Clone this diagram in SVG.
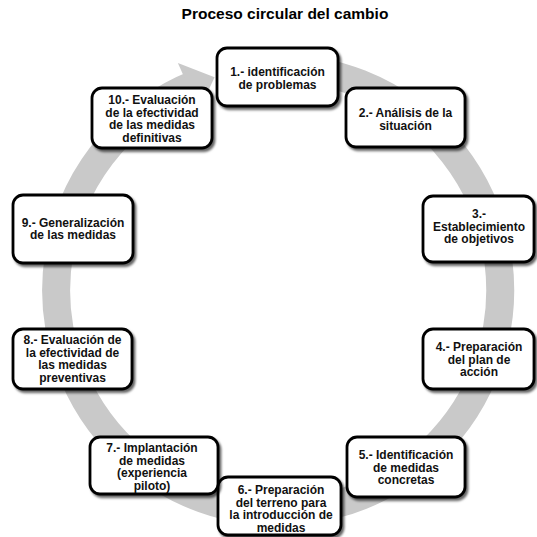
<svg xmlns="http://www.w3.org/2000/svg" width="537" height="537" viewBox="0 0 537 537">
  <defs>
    <filter id="sh" x="-10%" y="-10%" width="125%" height="130%">
      <feDropShadow dx="2" dy="2.5" stdDeviation="1.3" flood-color="#000" flood-opacity="0.6"/>
    </filter>
  </defs>
  <style>
    .box { fill: #ffffff; stroke: #000000; stroke-width: 2.8; filter: url(#sh); }
    .lbl { font-family: "Liberation Sans", Arial, sans-serif; font-weight: bold; font-size: 12px; fill: #111111; text-anchor: middle; }
    .title { font-family: "Liberation Sans", Arial, sans-serif; font-weight: bold; font-size: 15.5px; fill: #000000; text-anchor: middle; }
    .band { fill: none; stroke: #c9c9c9; stroke-width: 28; }
    .head { fill: #c9c9c9; }
  </style>
  <rect width="537" height="537" fill="#ffffff"/>
  <text class="title" x="285" y="19">Proceso circular del cambio</text>

  <g id="connectors">
    <path class="band" d="M 258.65 68.8 A 222 222 0 1 1 194.8 84.2"/>
    <polygon class="head" points="177.9,63.1 214.6,77.3 198.9,110.7"/>
  </g>

  <g id="n1">
    <rect class="box" x="217" y="48" width="121" height="58" rx="10"/>
    <text class="lbl"><tspan x="277.5" y="76">1.- identificación</tspan><tspan x="277.5" y="88.5">de problemas</tspan></text>
  </g>
  <g id="n2">
    <rect class="box" x="346" y="88" width="119" height="59" rx="10"/>
    <text class="lbl"><tspan x="405.5" y="117">2.- Análisis de la</tspan><tspan x="405.5" y="129.5">situación</tspan></text>
  </g>
  <g id="n3">
    <rect class="box" x="423" y="196" width="111" height="66" rx="10"/>
    <text class="lbl"><tspan x="479" y="218">3.-</tspan><tspan x="479" y="230.5">Establecimiento</tspan><tspan x="479" y="243">de objetivos</tspan></text>
  </g>
  <g id="n4">
    <rect class="box" x="423" y="329" width="111" height="60" rx="10"/>
    <text class="lbl"><tspan x="479" y="351">4.- Preparación</tspan><tspan x="479" y="363.5">del plan de</tspan><tspan x="479" y="376">acción</tspan></text>
  </g>
  <g id="n5">
    <rect class="box" x="347" y="437" width="118" height="60" rx="10"/>
    <text class="lbl"><tspan x="406" y="459">5.- Identificación</tspan><tspan x="406" y="471.5">de medidas</tspan><tspan x="406" y="484">concretas</tspan></text>
  </g>
  <g id="n6">
    <rect class="box" x="218" y="477" width="123" height="58" rx="10"/>
    <text class="lbl"><tspan x="281" y="494">6.- Preparación</tspan><tspan x="281" y="506.5">del terreno para</tspan><tspan x="281" y="519">la introducción de</tspan><tspan x="281" y="531.5">medidas</tspan></text>
  </g>
  <g id="n7">
    <rect class="box" x="90" y="437" width="128" height="57" rx="10"/>
    <text class="lbl"><tspan x="152" y="452">7.- Implantación</tspan><tspan x="152" y="464.5">de medidas</tspan><tspan x="152" y="477">(experiencia</tspan><tspan x="152" y="489.5">piloto)</tspan></text>
  </g>
  <g id="n8">
    <rect class="box" x="13" y="329" width="119" height="60" rx="10"/>
    <text class="lbl"><tspan x="72.5" y="344">8.- Evaluación de</tspan><tspan x="72.5" y="356.5">la efectividad de</tspan><tspan x="72.5" y="369">las medidas</tspan><tspan x="72.5" y="381.5">preventivas</tspan></text>
  </g>
  <g id="n9">
    <rect class="box" x="13" y="195" width="120" height="68" rx="10"/>
    <text class="lbl"><tspan x="73" y="226.5">9.- Generalización</tspan><tspan x="73" y="239">de las medidas</tspan></text>
  </g>
  <g id="n10">
    <rect class="box" x="92" y="88" width="120" height="60" rx="10"/>
    <text class="lbl"><tspan x="152" y="104">10.- Evaluación</tspan><tspan x="152" y="116.5">de la efectividad</tspan><tspan x="152" y="129">de las medidas</tspan><tspan x="152" y="141.5">definitivas</tspan></text>
  </g>
</svg>
